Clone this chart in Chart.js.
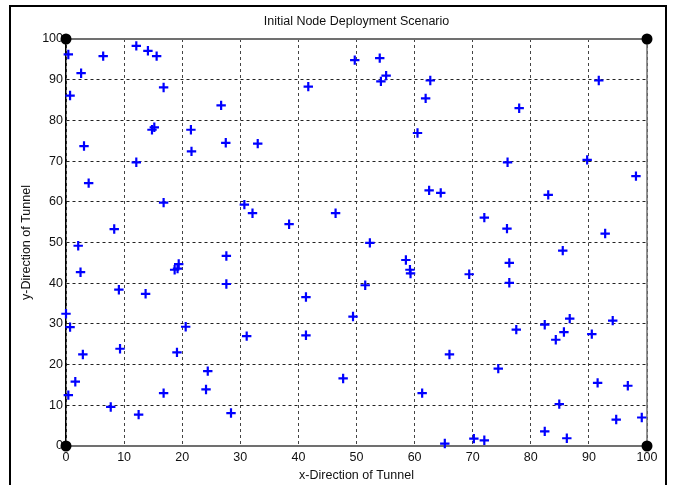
<!DOCTYPE html>
<html>
<head>
<meta charset="utf-8">
<title>Initial Node Deployment Scenario</title>
<script src="https://cdn.jsdelivr.net/npm/chart.js@4.4.0/dist/chart.umd.min.js"></script>
<style>
    html, body { margin: 0; padding: 0; background: #fff; }
    #wrap { position: relative; width: 674px; height: 485px; overflow: hidden; }
    #frame { position: absolute; left: 9px; top: 5px; width: 654px; height: 500px; border: 2px solid #000; pointer-events: none; }
</style>
</head>
<body>
<div id="wrap">
    <canvas id="deployChart" width="674" height="485"></canvas>
    <div id="frame"></div>
</div>
<script>
// Node positions
const nodeX = [
    0.4, 6.4, 12.1, 14.1, 15.6, 2.6, 0.7, 16.8, 26.7, 14.8, 15.2, 21.5, 3.1, 27.5, 21.6, 12.1, 3.9, 16.8, 30.7, 8.3,
    49.7, 54.0, 55.1, 54.2, 62.7, 61.9, 41.7, 60.5, 33.0, 62.5, 64.5, 32.1, 38.4, 46.4,
    91.7, 78.0, 76.0, 89.7, 98.1, 83.0, 72.0, 75.9, 92.8,
    2.1, 2.5, 18.7, 19.4, 19.2, 27.6, 27.6, 9.1, 13.7, 0.0, 0.7, 20.6, 31.1, 2.9, 9.3, 19.1, 24.4, 1.6, 0.4, 16.8, 24.1, 7.7, 12.5, 28.4,
    52.3, 58.5, 59.2, 59.3, 51.5, 41.3, 49.4, 41.3, 47.7, 61.3, 66.0, 65.2,
    85.5, 76.3, 69.4, 76.3, 82.4, 86.7, 94.1, 77.5, 85.7, 84.3, 90.5, 74.4, 91.5, 96.7, 84.9, 94.7, 99.1, 82.4, 86.2, 70.2, 72.0
];
const nodeY = [
    96.2, 95.8, 98.3, 97.1, 95.8, 91.6, 86.1, 88.1, 83.7, 77.7, 78.3, 77.7, 73.7, 74.5, 72.4, 69.7, 64.6, 59.8, 59.3, 53.3,
    94.8, 95.3, 91.0, 89.6, 89.8, 85.4, 88.3, 76.9, 74.3, 62.8, 62.2, 57.2, 54.5, 57.2,
    89.8, 83.0, 69.7, 70.3, 66.3, 61.7, 56.1, 53.4, 52.2,
    49.2, 42.7, 43.3, 44.7, 43.6, 46.7, 39.8, 38.4, 37.4, 32.5, 29.2, 29.3, 27.0, 22.5, 23.9, 23.0, 18.4, 15.8, 12.5, 13.0, 13.9, 9.6, 7.7, 8.1,
    49.9, 45.7, 43.3, 42.4, 39.5, 36.6, 31.8, 27.2, 16.6, 13.0, 22.5, 0.6,
    48.0, 45.0, 42.2, 40.1, 29.8, 31.3, 30.8, 28.6, 28.0, 26.1, 27.5, 19.0, 15.5, 14.8, 10.3, 6.5, 7.0, 3.6, 1.9, 1.8, 1.4
];

// Corner anchors of the tunnel
const cornerX = [0, 0, 100, 100];
const cornerY = [0, 100, 0, 100];

const FONT = 'Liberation Sans, Arial, sans-serif';
const TEXT = '#111';

const frameAndTitle = {
    id: 'frameAndTitle',
    beforeDatasetsDraw(chart) {
        const { ctx, chartArea: a } = chart;
        ctx.save();
        ctx.strokeStyle = '#707070';
        ctx.lineWidth = 2;
        ctx.beginPath();
        ctx.moveTo(a.left, a.top);
        ctx.lineTo(a.right, a.top);
        ctx.stroke();
        ctx.lineWidth = 1.5;
        ctx.beginPath();
        ctx.moveTo(a.right, a.top);
        ctx.lineTo(a.right, a.bottom);
        ctx.stroke();
        ctx.restore();
    },
    afterDraw(chart) {
        const { ctx, chartArea: a } = chart;
        ctx.save();
        ctx.fillStyle = TEXT;
        ctx.font = '12.5px ' + FONT;
        ctx.textAlign = 'center';
        ctx.textBaseline = 'middle';
        ctx.fillText('Initial Node Deployment Scenario', (a.left + a.right) / 2, 22);
        ctx.restore();
    }
};

const ctx = document.getElementById('deployChart').getContext('2d');

new Chart(ctx, {
    type: 'scatter',
    data: {
        datasets: [
            {
                label: 'Nodes',
                data: nodeX.map((x, i) => ({ x: x, y: nodeY[i] })),
                pointStyle: 'cross',
                radius: 4.7,
                borderWidth: 2.2,
                borderColor: '#0000ff',
                backgroundColor: '#0000ff',
                clip: false
            },
            {
                label: 'Corners',
                data: cornerX.map((x, i) => ({ x: x, y: cornerY[i] })),
                pointStyle: 'circle',
                radius: 5.5,
                borderWidth: 0,
                backgroundColor: '#000',
                clip: false
            }
        ]
    },
    options: {
        responsive: false,
        animation: false,
        events: [],
        layout: { padding: { top: 39, right: 27, left: 0, bottom: 0 } },
        plugins: {
            legend: { display: false },
            tooltip: { enabled: false }
        },
        scales: {
            x: {
                type: 'linear',
                min: 0,
                max: 100,
                afterFit: s => { s.height = 39; },
                ticks: { stepSize: 10, padding: 4, color: TEXT, font: { family: FONT, size: 12.5 } },
                grid: { color: '#444', lineWidth: 1, drawTicks: false },
                border: { color: '#707070', width: 2, dash: [3, 3] },
                title: {
                    display: true,
                    text: 'x-Direction of Tunnel',
                    color: TEXT,
                    font: { family: FONT, size: 12.5 },
                    padding: { top: 0, bottom: 2 }
                }
            },
            y: {
                type: 'linear',
                min: 0,
                max: 100,
                afterFit: s => { s.width = 66; },
                ticks: { stepSize: 10, padding: 3, color: TEXT, font: { family: FONT, size: 12.5 } },
                grid: { color: '#222', lineWidth: 1, drawTicks: false },
                border: { color: '#000', width: 1.5, dash: [3, 3] },
                title: {
                    display: true,
                    text: 'y-Direction of Tunnel',
                    color: TEXT,
                    font: { family: FONT, size: 12.5 },
                    padding: { top: 19, bottom: 0 }
                }
            }
        }
    },
    plugins: [frameAndTitle]
});
</script>
</body>
</html>
